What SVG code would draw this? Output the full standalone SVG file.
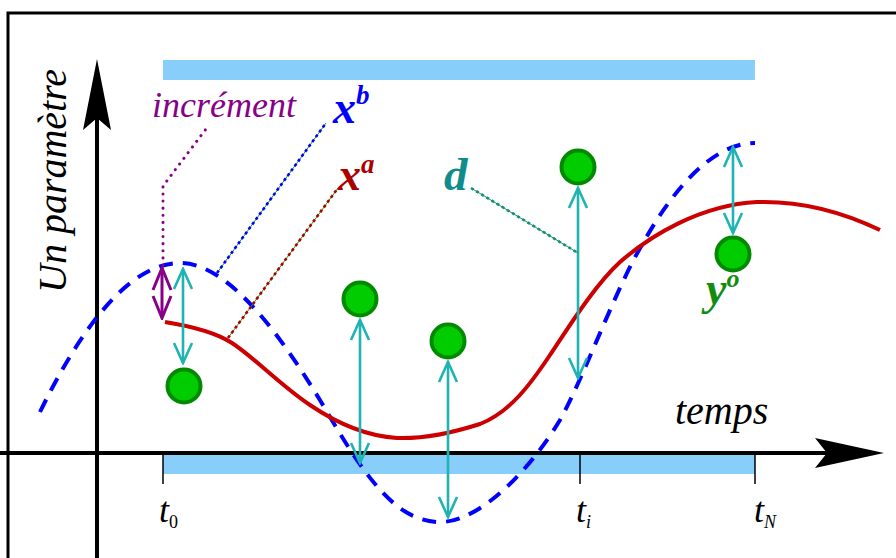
<svg xmlns="http://www.w3.org/2000/svg" width="896" height="558" viewBox="0 0 896 558">
<style>
.obs{fill:#00cc00;stroke:#008a00;stroke-width:4}
.d{stroke:#1fb3b3;stroke-width:2.6;fill:none;marker-start:url(#vc);marker-end:url(#vc)}
.lbl{font-family:"Liberation Serif","Times New Roman",serif;font-style:italic}
.b{font-weight:bold}
.lead{fill:none;stroke:#1a9a1a;stroke-width:1}
.dots{fill:none;stroke-width:2.6;stroke-dasharray:3 3}
.bar{fill:#87cefa}
.tick{stroke:#000;stroke-width:1.5}
</style>
<defs>
<marker id="vc" viewBox="-22 -11 24 22" markerWidth="24" markerHeight="22" refX="0" refY="0" orient="auto-start-reverse" markerUnits="userSpaceOnUse">
<path d="M-20,-9 L0,0 L-20,9" fill="none" stroke="#1fb3b3" stroke-width="2.6"/>
</marker>
<marker id="vp" viewBox="-24 -11 26 22" markerWidth="26" markerHeight="22" refX="0" refY="0" orient="auto-start-reverse" markerUnits="userSpaceOnUse">
<path d="M-22,-9 L0,0 L-22,9" fill="none" stroke="#880088" stroke-width="3"/>
</marker>
</defs>
<rect width="896" height="558" fill="#fff"/>
<rect x="8" y="13" width="900" height="560" fill="none" stroke="#000" stroke-width="3"/>
<g id="bars">
<rect class="bar" x="163" y="60" width="592" height="20"/>
<rect class="bar" x="163" y="454" width="592" height="20"/>
</g>
<g id="axes">
<line x1="0" y1="453" x2="830" y2="453" stroke="#000" stroke-width="4"/>
<path d="M884,453 L815,438 L827,453 L815,468 Z" fill="#000"/>
<line x1="97" y1="558" x2="97" y2="110" stroke="#000" stroke-width="4"/>
<path d="M97,59 L83,130 L97,118 L111,130 Z" fill="#000"/>
<line class="tick" x1="163" y1="453" x2="163" y2="484"/>
<line class="tick" x1="580" y1="453" x2="580" y2="484"/>
<line class="tick" x1="755" y1="453" x2="755" y2="484"/>
<text class="lbl" x="675" y="424" font-size="40">temps</text>
<text class="lbl" font-size="40" transform="translate(66,293) rotate(-90)">Un paramètre</text>
<text class="lbl" x="159" y="522" font-size="36">t<tspan font-style="normal" font-size="18" dy="6">0</tspan></text>
<text class="lbl" x="576" y="522" font-size="36">t<tspan font-size="18" dy="6">i</tspan></text>
<text class="lbl" x="754" y="522" font-size="36">t<tspan font-size="18" dy="6">N</tspan></text>
</g>
<g id="xb-curve">
<path d="M40,412 C75,340 125,263 180,263 C230,263 285,340 330,417 C370,485 400,522 440,522 C480,522 530,470 560,420 C585,375 615,290 643,243 C670,195 710,143 755,143" fill="none" stroke="#0000ff" stroke-width="4" stroke-dasharray="14 10"/>
</g>
<g id="xa-curve">
<path d="M165,322 C190,326 215,332 232,343 C255,358 280,385 310,405 C335,422 365,436 397,438 C425,439 455,432 480,424 C510,412 530,385 550,355 C570,325 595,285 620,262 C650,236 700,205 757,202 C790,201 830,206 880,230" fill="none" stroke="#cc0000" stroke-width="4"/>
</g>
<g id="connectors">
<line class="d" x1="183" y1="269" x2="183" y2="363"/>
<line class="d" x1="360" y1="320" x2="360" y2="463"/>
<line class="d" x1="448" y1="362" x2="448" y2="517"/>
<line class="d" x1="578" y1="188" x2="578" y2="378"/>
<line class="d" x1="733" y1="147" x2="733" y2="233"/>
<line x1="162" y1="268" x2="162" y2="318" stroke="#880088" stroke-width="3" marker-start="url(#vp)" marker-end="url(#vp)"/>
<polyline points="163,265 163,186 209,125" fill="none" stroke="#880088" stroke-width="3" stroke-linecap="round" stroke-dasharray="0.1 7"/>
<line class="lead" x1="217" y1="273" x2="326" y2="123"/>
<line class="dots" x1="217" y1="273" x2="326" y2="123" stroke="#0000ff"/>
<line class="lead" x1="228" y1="338" x2="338" y2="188"/>
<line class="dots" x1="228" y1="338" x2="338" y2="188" stroke="#aa0000"/>
<line class="lead" x1="471" y1="188" x2="578" y2="253"/>
<line class="dots" x1="471" y1="188" x2="578" y2="253" stroke="#118c8c"/>
</g>
<g id="observations">
<circle class="obs" cx="184" cy="386" r="16.5"/>
<circle class="obs" cx="360" cy="299" r="16.5"/>
<circle class="obs" cx="448" cy="341" r="16.5"/>
<circle class="obs" cx="578" cy="167" r="16.5"/>
<circle class="obs" cx="733" cy="254" r="16.5"/>
</g>
<g id="label-increment"><text class="lbl" x="152" y="117" font-size="36" fill="#880088">incrément</text></g>
<g id="label-xb"><text class="lbl b" x="333" y="123" font-size="46" fill="#0000ff">x<tspan font-size="27" dy="-19">b</tspan></text></g>
<g id="label-xa"><text class="lbl b" x="338" y="190" font-size="46" fill="#aa0000">x<tspan font-size="27" dy="-17">a</tspan></text></g>
<g id="label-d"><text class="lbl b" x="444" y="190" font-size="47" fill="#118c8c">d</text></g>
<g id="label-yo"><text class="lbl b" x="706" y="304" font-size="46" fill="#118c11">y<tspan font-size="26" dy="-17">o</tspan></text></g>
</svg>
